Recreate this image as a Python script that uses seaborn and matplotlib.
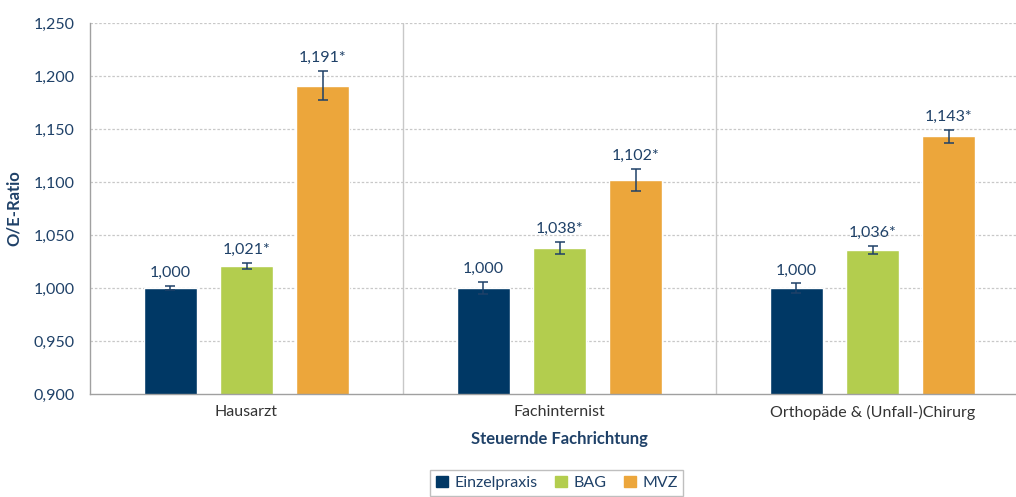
import pandas as pd
import numpy as np
import matplotlib
matplotlib.use("Agg")
import matplotlib.pyplot as plt
import seaborn as sns

# Data
categories = ["Hausarzt", "Fachinternist", "Orthopäde & (Unfall-)Chirurg"]
groups = ["Einzelpraxis", "BAG", "MVZ"]
einzelpraxis = [1.000, 1.000, 1.000]
bag = [1.021, 1.038, 1.036]
mvz = [1.191, 1.102, 1.143]
err_einzelpraxis = [0.002, 0.006, 0.0045]
err_bag = [0.003, 0.0055, 0.004]
err_mvz = [0.014, 0.0105, 0.0065]
stars = [False, True, True]

colors = ["#003865", "#B3CD4E", "#ECA63B"]
text_color = "#1F4168"

df = pd.DataFrame({
    "Fachrichtung": categories * 3,
    "Gruppe": [g for g in groups for _ in categories],
    "Ratio": einzelpraxis + bag + mvz,
    "Fehler": err_einzelpraxis + err_bag + err_mvz,
})

sns.set_style("white")
plt.rcParams["font.family"] = ["Lato", "DejaVu Sans"]

fig = plt.figure(figsize=(10.16, 4.97), dpi=100)
ax = fig.add_axes([90 / 1016, 103 / 497, 939 / 1016, 371 / 497])

sns.barplot(data=df, x="Fachrichtung", y="Ratio", hue="Gruppe", hue_order=groups,
            palette=colors, width=0.73, gap=0.3, errorbar=None, ax=ax,
            saturation=1, legend=False)

# error bars and value labels per group
bar_containers = list(ax.containers)
for gi, container in enumerate(bar_containers):
    sub = df[df["Gruppe"] == groups[gi]]
    xs = [p.get_x() + p.get_width() / 2 for p in container.patches]
    vals = sub["Ratio"].to_numpy()
    errs = sub["Fehler"].to_numpy()
    ax.errorbar(xs, vals, yerr=errs, fmt="none", ecolor=text_color,
                elinewidth=1.1, capsize=3.5, capthick=1.1, zorder=5)
    for x, v, e in zip(xs, vals, errs):
        label = f"{v:.3f}".replace(".", ",") + ("*" if stars[gi] else "")
        ax.annotate(label, (x, v + e), xytext=(0, 4), textcoords="offset points",
                    ha="center", va="bottom", fontsize=11.5, color=text_color)

ax.set_ylim(0.9, 1.25)
yticks = np.arange(0.9, 1.2501, 0.05)
ax.set_yticks(yticks)
ax.set_yticklabels([f"{t:.3f}".replace(".", ",") for t in yticks],
                   fontsize=11.5, color=text_color)
ax.set_xlim(-0.5, 2.5)
ax.set_xticks(range(3))
ax.set_xticklabels(categories, fontsize=11.5, color="#333333")
ax.set_xticks([0.5, 1.5], minor=True)
ax.tick_params(axis="x", which="major", length=0, pad=8)
ax.tick_params(axis="x", which="minor", length=8, color="#A0A0A0", width=1)
ax.tick_params(axis="y", length=5, color="#A0A0A0", width=1, direction="out", pad=6)

for t in yticks[1:]:
    ax.axhline(t, color="#C8C8C8", lw=0.9, ls=(0, (2, 1.5)), zorder=0)
for xb in [0.5, 1.5]:
    ax.axvline(xb, color="#C8C8C8", lw=1, zorder=0)

for s in ["top", "right"]:
    ax.spines[s].set_visible(False)
for s in ["left", "bottom"]:
    ax.spines[s].set_color("#A0A0A0")
    ax.spines[s].set_linewidth(1)

ax.set_ylabel("O/E-Ratio", fontsize=12, fontweight="bold", color=text_color, labelpad=8)
ax.set_xlabel("Steuernde Fachrichtung", fontsize=12, fontweight="bold",
              color=text_color, labelpad=8)

handles = [plt.Rectangle((0, 0), 1, 1, color=c) for c in colors]
leg = fig.legend(handles, groups, loc="upper center", bbox_to_anchor=(0.548, 0.054),
                 ncol=3, frameon=True, fancybox=False, fontsize=11.5,
                 handlelength=0.75, handleheight=0.75, handletextpad=0.4,
                 columnspacing=1.1, borderpad=0.35, borderaxespad=0)
leg.get_frame().set_edgecolor("#B0B0B0")
leg.get_frame().set_linewidth(1)
for t in leg.get_texts():
    t.set_color(text_color)

fig.savefig("out.png", dpi=100)
